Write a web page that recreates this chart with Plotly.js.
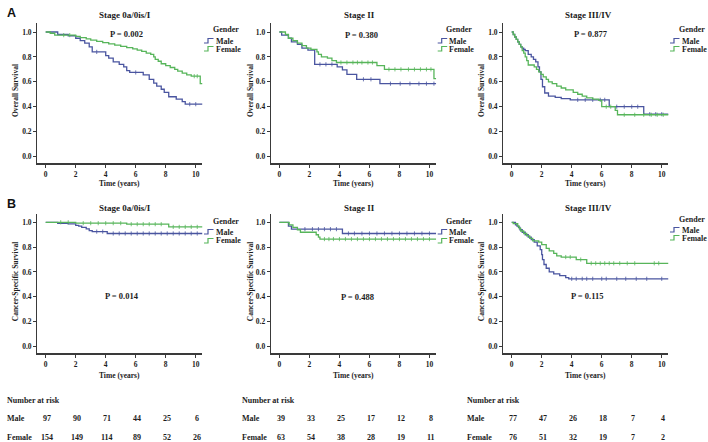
<!DOCTYPE html>
<html>
<head>
<meta charset="utf-8">
<script src="https://cdn.plot.ly/plotly-3.0.1.min.js"></script>
<style>html,body{margin:0;padding:0;background:#fff;}#chart{width:708px;height:442px;}</style>
</head>
<body>
<div id="chart"></div>
<script>
// ---------------- DATA ----------------
const panelTitles = ["Stage 0a/0is/I", "Stage II", "Stage III/IV", "Stage 0a/0is/I", "Stage II", "Stage III/IV"];
const pValues = ["P = 0.002", "P = 0.380", "P = 0.877", "P = 0.014", "P = 0.488", "P = 0.115"];
const groupNames = ["Male", "Female"];
const xTickVals = [0, 2, 4, 6, 8, 10];
const yTickVals = [0, 0.2, 0.4, 0.6, 0.8, 1.0];

// Overall survival, Stage 0a/0is/I
const os1MaleT = [0, 0.8, 1.5, 2.0, 2.3, 2.6, 2.9, 3.1, 4.0, 4.2, 4.5, 4.9, 5.2, 5.4, 5.6, 6.5, 6.9, 7.2, 7.4, 7.7, 7.9, 8.2, 8.7, 9.1, 9.3, 10.45];
const os1MaleS = [1.0, 0.98, 0.97, 0.95, 0.93, 0.91, 0.88, 0.84, 0.81, 0.79, 0.76, 0.74, 0.72, 0.69, 0.675, 0.655, 0.62, 0.59, 0.565, 0.54, 0.515, 0.48, 0.46, 0.44, 0.42, 0.42];
const os1MaleC = [3.4, 6.0, 9.6, 10.0];
const os1FemT = [0, 0.3, 0.6, 2.0, 2.3, 2.7, 3.0, 3.4, 3.8, 4.2, 4.6, 5.0, 5.4, 5.8, 6.1, 6.4, 6.7, 7.0, 7.2, 7.3, 7.5, 7.7, 8.0, 8.3, 8.6, 8.8, 9.1, 9.4, 9.7, 10.3, 10.45];
const os1FemS = [1.0, 0.99, 0.975, 0.965, 0.955, 0.945, 0.935, 0.925, 0.915, 0.905, 0.895, 0.885, 0.875, 0.865, 0.855, 0.845, 0.83, 0.82, 0.80, 0.78, 0.765, 0.745, 0.73, 0.715, 0.70, 0.685, 0.67, 0.655, 0.645, 0.585, 0.585];
const os1FemC = [1.2, 1.6, 9.9, 10.1];

// Overall survival, Stage II
const os2MaleT = [0, 0.15, 0.6, 0.8, 1.2, 1.5, 1.9, 2.35, 3.85, 4.2, 4.5, 5.15, 6.7, 10.45];
const os2MaleS = [1.0, 0.975, 0.95, 0.92, 0.90, 0.87, 0.855, 0.74, 0.72, 0.695, 0.66, 0.62, 0.585, 0.585];
const os2MaleC = [2.7, 3.1, 3.5, 5.6, 6.1, 7.4, 8.05, 8.7, 9.3, 9.8, 10.3];
const os2FemT = [0, 0.4, 0.6, 0.9, 1.2, 1.5, 1.8, 2.1, 2.5, 2.6, 2.8, 3.2, 3.5, 3.8, 6.5, 7.0, 10.3, 10.45];
const os2FemS = [1.0, 0.98, 0.95, 0.93, 0.91, 0.89, 0.87, 0.86, 0.84, 0.82, 0.80, 0.79, 0.77, 0.755, 0.73, 0.70, 0.625, 0.625];
const os2FemC = [4.1, 4.5, 4.9, 5.2, 5.5, 5.9, 6.2, 7.3, 7.7, 8.1, 8.6, 9.0, 9.4, 9.8, 10.1];

// Overall survival, Stage III/IV
const os3MaleT = [0, 0.1, 0.2, 0.3, 0.4, 0.5, 0.6, 0.7, 0.8, 0.9, 1.1, 1.3, 1.45, 1.6, 1.75, 1.85, 1.95, 2.05, 2.2, 2.45, 2.9, 3.3, 3.9, 6.5, 8.8, 10.45];
const os3MaleS = [1.0, 0.98, 0.96, 0.94, 0.92, 0.90, 0.88, 0.87, 0.86, 0.85, 0.82, 0.80, 0.78, 0.76, 0.72, 0.68, 0.62, 0.56, 0.51, 0.485, 0.475, 0.465, 0.455, 0.40, 0.34, 0.34];
const os3MaleC = [4.4, 4.9, 5.4, 5.9, 6.2, 7.0, 7.5, 8.0, 8.4, 9.2, 9.6, 10.0];
const os3FemT = [0, 0.1, 0.2, 0.3, 0.4, 0.5, 0.6, 0.7, 0.8, 0.9, 1.0, 1.1, 1.5, 1.65, 1.8, 1.95, 2.1, 2.3, 2.45, 2.7, 3.0, 3.3, 3.6, 4.1, 4.4, 4.7, 5.0, 5.4, 5.8, 6.0, 6.9, 7.05, 10.45];
const os3FemS = [1.0, 0.98, 0.96, 0.94, 0.92, 0.90, 0.88, 0.85, 0.83, 0.80, 0.77, 0.735, 0.72, 0.70, 0.68, 0.66, 0.64, 0.62, 0.60, 0.585, 0.565, 0.55, 0.535, 0.515, 0.50, 0.485, 0.47, 0.46, 0.45, 0.40, 0.37, 0.335, 0.335];
const os3FemC = [6.3, 6.6, 7.5, 8.2, 8.8, 9.3, 9.7, 10.1];

// Cancer-specific survival, Stage 0a/0is/I
const css1MaleT = [0, 0.8, 1.5, 2.0, 2.2, 2.4, 2.7, 2.9, 3.1, 4.1, 10.45];
const css1MaleS = [1.0, 0.992, 0.987, 0.976, 0.97, 0.96, 0.947, 0.933, 0.925, 0.91, 0.91];
const css1MaleC = [3.4, 3.8, 4.5, 4.9, 5.3, 5.7, 6.1, 6.5, 6.9, 7.3, 7.7, 8.1, 8.5, 8.9, 9.3, 9.7, 10.1];
const css1FemT = [0, 2.0, 5.4, 8.2, 10.45];
const css1FemS = [1.0, 0.993, 0.985, 0.963, 0.963];
const css1FemC = [1.0, 1.5, 2.5, 3.0, 3.5, 4.0, 4.5, 5.0, 5.7, 6.1, 6.5, 6.9, 7.3, 7.7, 8.5, 8.9, 9.3, 9.7, 10.1];

// Cancer-specific survival, Stage II
const css2MaleT = [0, 0.6, 0.8, 4.2, 10.45];
const css2MaleS = [1.0, 0.97, 0.945, 0.91, 0.91];
const css2MaleC = [1.7, 2.2, 2.6, 3.0, 3.4, 3.8, 4.6, 5.0, 5.5, 6.0, 6.5, 7.0, 7.5, 8.0, 8.5, 9.0, 9.5, 10.0];
const css2FemT = [0, 0.65, 0.9, 1.2, 1.4, 2.45, 2.6, 2.7, 10.45];
const css2FemS = [1.0, 0.98, 0.96, 0.94, 0.92, 0.90, 0.88, 0.865, 0.865];
const css2FemC = [3.0, 3.3, 3.6, 4.0, 4.4, 4.8, 5.2, 5.6, 6.0, 6.4, 6.8, 7.2, 7.6, 8.0, 8.4, 8.8, 9.2, 9.6, 10.0];

// Cancer-specific survival, Stage III/IV
const css3MaleT = [0, 0.25, 0.35, 0.45, 0.55, 0.7, 0.9, 1.1, 1.3, 1.5, 1.7, 1.9, 2.0, 2.05, 2.15, 2.3, 2.5, 2.8, 3.2, 3.6, 3.8, 10.45];
const css3MaleS = [1.0, 0.98, 0.97, 0.96, 0.94, 0.92, 0.90, 0.88, 0.86, 0.84, 0.81, 0.78, 0.74, 0.70, 0.66, 0.63, 0.60, 0.585, 0.57, 0.555, 0.545, 0.545];
const css3MaleC = [4.0, 4.3, 4.7, 5.0, 5.4, 6.0, 6.3, 7.0, 7.6, 8.3, 9.0, 10.0];
const css3FemT = [0, 0.1, 0.4, 0.5, 0.6, 0.8, 1.0, 1.2, 1.4, 1.8, 2.0, 2.3, 2.5, 2.8, 3.0, 3.3, 4.3, 5.0, 10.45];
const css3FemS = [1.0, 0.99, 0.97, 0.95, 0.93, 0.91, 0.89, 0.87, 0.85, 0.84, 0.82, 0.79, 0.77, 0.75, 0.73, 0.72, 0.70, 0.67, 0.67];
const css3FemC = [3.6, 3.9, 4.6, 5.3, 5.6, 5.9, 6.2, 6.5, 6.8, 7.2, 7.7, 8.2, 9.5, 9.8];

// Number at risk (at years 0,2,4,6,8,10)
const riskTimes = [0, 2, 4, 6, 8, 10];
const risk1Male = [97, 90, 71, 44, 25, 6];
const risk1Female = [154, 149, 114, 89, 52, 26];
const risk2Male = [39, 33, 25, 17, 12, 8];
const risk2Female = [63, 54, 38, 28, 19, 11];
const risk3Male = [77, 47, 26, 18, 7, 4];
const risk3Female = [76, 51, 32, 19, 7, 2];

// ---------------- BUILD ----------------
const curves = [
  [[os1MaleT, os1MaleS, os1MaleC], [os1FemT, os1FemS, os1FemC]],
  [[os2MaleT, os2MaleS, os2MaleC], [os2FemT, os2FemS, os2FemC]],
  [[os3MaleT, os3MaleS, os3MaleC], [os3FemT, os3FemS, os3FemC]],
  [[css1MaleT, css1MaleS, css1MaleC], [css1FemT, css1FemS, css1FemC]],
  [[css2MaleT, css2MaleS, css2MaleC], [css2FemT, css2FemS, css2FemC]],
  [[css3MaleT, css3MaleS, css3MaleC], [css3FemT, css3FemS, css3FemC]]
];
const risks = [[risk1Male, risk1Female], [risk2Male, risk2Female], [risk3Male, risk3Female]];

const W = 708, H = 442;
const px = x => x / W;
const py = y => 1 - y / H;
const FONT = '"Liberation Serif", "Times New Roman", serif';
const TXT = '#1c1c1c';
const AX = '#3a3a3a';
const colors = ['#4a55a0', '#57b55a'];

function stepValue(t, ts, ss) {
  let v = ss[0];
  for (let i = 0; i < ts.length; i++) if (ts[i] <= t) v = ss[i];
  return v;
}

const xDomains = [[0.0527, 0.2860], [0.3828, 0.6161], [0.7109, 0.9442]];
const yDomains = [[0.6305, 0.9473], [0.2007, 0.5167]];
const plotRightPx = [202.5, 436.2, 668.5];

const data = [];
const layout = {
  width: W, height: H,
  margin: {l: 0, r: 0, t: 0, b: 0},
  paper_bgcolor: '#ffffff', plot_bgcolor: '#ffffff',
  showlegend: false,
  font: {family: FONT, color: TXT, size: 8, weight: 'bold'},
  annotations: [], shapes: []
};

function ann(o) {
  layout.annotations.push(Object.assign({
    xref: 'paper', yref: 'paper', showarrow: false,
    font: {family: FONT, size: 8, color: TXT, weight: 'bold'}
  }, o));
}

for (let p = 0; p < 6; p++) {
  const n = p + 1;
  const col = p % 3, row = Math.floor(p / 3);
  const xa = n === 1 ? 'x' : 'x' + n;
  const ya = n === 1 ? 'y' : 'y' + n;
  const axStyle = {
    showgrid: false, zeroline: false, showline: true, linecolor: AX, linewidth: 1.3,
    ticks: 'outside', ticklen: 3, tickwidth: 1, tickcolor: AX,
    tickfont: {family: FONT, size: 7.5, color: TXT, weight: 'bold'}, fixedrange: true
  };
  layout['xaxis' + (n === 1 ? '' : n)] = Object.assign({}, axStyle, {
    domain: xDomains[col], anchor: ya, range: [-0.56, 10.45], tickvals: xTickVals
  });
  layout['yaxis' + (n === 1 ? '' : n)] = Object.assign({}, axStyle, {
    domain: yDomains[row], anchor: xa, range: [-0.055, 1.07], tickvals: yTickVals, tickformat: '.1f'
  });

  curves[p].forEach((c, g) => {
    const [ts, ss, cs] = c;
    data.push({
      type: 'scatter', mode: 'lines', x: ts, y: ss, xaxis: xa, yaxis: ya,
      line: {shape: 'hv', color: colors[g], width: 1.3}, name: groupNames[g], hoverinfo: 'skip'
    });
    data.push({
      type: 'scatter', mode: 'markers', x: cs, y: cs.map(t => stepValue(t, ts, ss)), xaxis: xa, yaxis: ya,
      marker: {symbol: 'line-ns', size: 3, line: {color: colors[g], width: 0.8}, color: colors[g]},
      name: groupNames[g] + ' censored', hoverinfo: 'skip'
    });
  });

  const x0 = xDomains[col][0], x1 = xDomains[col][1];
  // panel title
  ann({x: px([125, 359, 588][col]), y: py([15, 208][row]), text: panelTitles[p], xanchor: 'center', yanchor: 'middle',
       font: {family: FONT, size: 9, color: TXT, weight: 'bold'}});
  // p value
  const pPos = [[126, 34], [361, 35], [591, 34], [122, 296], [357, 297], [587, 296]][p];
  ann({x: px(pPos[0]), y: py(pPos[1]), text: pValues[p], xanchor: 'center', yanchor: 'middle',
       font: {family: FONT, size: 8.5, color: TXT, weight: 'bold'}});
  // axis titles
  ann({x: (x0 + x1) / 2, y: py([183, 375][row]), text: 'Time (years)', xanchor: 'center', yanchor: 'middle',
       font: {family: FONT, size: 7.5, color: TXT, weight: 'bold'}});
  ann({x: px([15, 250, 481][col]), y: (yDomains[row][0] + yDomains[row][1]) / 2 + 0.005,
       text: row === 0 ? 'Overall Survival' : 'Cancer-Specific Survival', textangle: -90,
       xanchor: 'center', yanchor: 'middle', font: {family: FONT, size: 7.5, color: TXT, weight: 'bold'}});
  // legend
  const L = plotRightPx[col] + 1.5;
  const ly = (p === 5) ? [219, 230, 238] : (row === 0 ? [30, 41, 49] : [221, 232, 241]);
  ann({x: px(L + 21.5), y: py(ly[0]), text: 'Gender', xanchor: 'center', yanchor: 'middle',
       font: {family: FONT, size: 8, color: TXT, weight: 'bold'}});
  groupNames.forEach((gn, g) => {
    const yc = ly[g + 1];
    ann({x: px(L + 9.5), y: py(yc), text: gn, xanchor: 'left', yanchor: 'middle',
         font: {family: FONT, size: 8, color: TXT, weight: 'bold'}});
    layout.shapes.push({
      type: 'path', xref: 'paper', yref: 'paper',
      path: `M ${px(L)} ${py(yc + 2)} L ${px(L + 4)} ${py(yc + 2)} L ${px(L + 4)} ${py(yc - 2.5)} L ${px(L + 9.5)} ${py(yc - 2.5)}`,
      line: {color: colors[g], width: 1.2}
    });
  });
}

// panel letters
ann({x: px(11), y: py(12.5), text: 'A', xanchor: 'center', yanchor: 'middle',
     font: {family: '"Liberation Sans", Arial, sans-serif', size: 12.5, color: '#111', weight: 'bold'}});
ann({x: px(11), y: py(204), text: 'B', xanchor: 'center', yanchor: 'middle',
     font: {family: '"Liberation Sans", Arial, sans-serif', size: 12.5, color: '#111', weight: 'bold'}});

// number at risk table
const tableLeft = [5, 240, 465];
for (let col = 0; col < 3; col++) {
  ann({x: px(tableLeft[col]), y: py(400), text: 'Number at risk', xanchor: 'left', yanchor: 'middle'});
  groupNames.forEach((gn, g) => {
    const yy = py([418, 437][g]);
    ann({x: px(tableLeft[col]), y: yy, text: gn, xanchor: 'left', yanchor: 'middle'});
    const xr = 'x' + (col + 4);
    risks[col][g].forEach((v, i) => {
      ann({xref: xr, x: riskTimes[i] + 0.1, y: yy, text: String(v), xanchor: 'center', yanchor: 'middle'});
    });
  });
}

Plotly.newPlot('chart', data, layout, {staticPlot: true, displayModeBar: false});
</script>
</body>
</html>
